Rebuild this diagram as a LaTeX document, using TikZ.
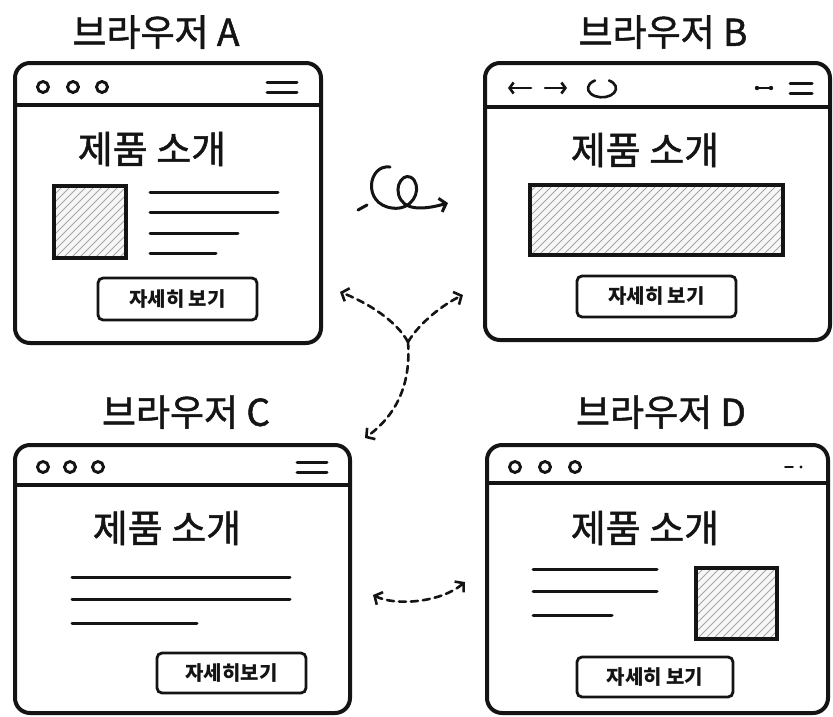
\documentclass[tikz,border=0pt]{standalone}
\usepackage{fontspec}
\setmainfont{Noto Sans CJK KR}
\newfontfamily\hfont{Noto Sans CJK KR}[FakeBold=1.3]
\usetikzlibrary{arrows.meta}
\newcommand{\hatchrect}[4]{%
  \begin{scope}
    \clip (#1,#2) rectangle (#3,#4);
    \fill[hatchbg] (#1,#2) rectangle (#3,#4);
    \foreach \k in {0,8,...,400} \draw[hatch] (#1+\k-100,#4+5) -- ++(110,-110);
  \end{scope}
  \draw[imgbox] (#1,#2) rectangle (#3,#4);}
\begin{document}
\begin{tikzpicture}[x=1pt,y=-1pt,
  win/.style={draw=ink, line width=4pt, rounded corners=15pt, inner sep=0pt, outer sep=0pt},
  bar/.style={draw=ink, line width=3.4pt},
  ttl/.style={font=\hfont\fontsize{37}{44}\selectfont, text=ink, inner sep=0pt},
  head/.style={font=\hfont\fontsize{38}{44}\selectfont, text=ink, inner sep=0pt},
  btn/.style={draw=ink, line width=2.8pt, rounded corners=5pt, inner sep=0pt, font=\bfseries\fontsize{20}{24}\selectfont, text=ink},
  txt/.style={draw=ink, line width=3pt, line cap=round},
  dotc/.style={draw=ink, line width=2.9pt},
  nav/.style={draw=ink, line width=2.6pt, line cap=round},
  hatch/.style={draw=gray!70, line width=0.9pt},
  hatchbg/.style={fill=gray!6},
  imgbox/.style={draw=ink, line width=3.3pt},
  conn/.style={draw=ink, line width=2.6pt, dash pattern=on 7pt off 5pt, line cap=round},
  tip/.style={-{Straight Barb[length=6pt,width=14pt,line width=2.6pt]}},
  both/.style={{Straight Barb[length=6pt,width=14pt,line width=2.6pt]}-{Straight Barb[length=6pt,width=14pt,line width=2.6pt]}}
]
\colorlet{ink}{black!92}
\useasboundingbox[fill=white] (0,0) rectangle (833,716);

% ---------- Browser A ----------
\node[ttl] (titleA) at (156,32) {브라우저 A};
\node[win, minimum width=306pt, minimum height=280pt] (A) at (168,203) {};
\draw[bar] (A.west |- 0,105) -- (A.east |- 0,105);
\foreach \x in {43,73,102} \draw[dotc] (\x,87) circle (5.5);
\draw[txt] (267,82) -- (297,82); \draw[txt] (267,92) -- (297,92);
\node[head] (headA) at (152,149) {제품 소개};
\hatchrect{54}{186}{126}{258}
\draw[txt] (150,192) -- (278,192);
\draw[txt] (150,212) -- (278,212);
\draw[txt] (150,233) -- (238,233);
\draw[txt] (150,253) -- (216,253);
\node[btn, minimum width=159pt, minimum height=42pt] (btnA) at (177.5,299) {자세히 보기};

% ---------- Browser B ----------
\node[ttl] (titleB) at (663,32) {브라우저 B};
\node[win, minimum width=345pt, minimum height=277pt] (B) at (657.5,201.5) {};
\draw[bar] (B.west |- 0,107) -- (B.east |- 0,107);
\draw[nav, -{Straight Barb[length=4pt,width=11pt,line width=2.6pt]}] (531,88) -- (508,88);
\draw[nav, -{Straight Barb[length=4pt,width=11pt,line width=2.6pt]}] (545,88) -- (567,88);
\draw[nav] (609,80.5) arc[start angle=-60, end angle=240, x radius=14, y radius=9];
\draw[nav] (757,88) -- (771,88);
\fill[ink] (757,88) circle (2.2); \fill[ink] (771,88) circle (2.2);
\draw[txt] (790,83) -- (812,83); \draw[txt] (790,93) -- (812,93);
\node[head] (headB) at (645,150) {제품 소개};
\hatchrect{530}{185}{783}{255}
\node[btn, minimum width=159pt, minimum height=41pt] (btnB) at (656.5,296.5) {자세히 보기};

% ---------- Browser C ----------
\node[ttl] (titleC) at (186,412) {브라우저 C};
\node[win, minimum width=335pt, minimum height=268pt] (C) at (182.5,579) {};
\draw[bar] (C.west |- 0,485) -- (C.east |- 0,485);
\foreach \x in {43,70,98} \draw[dotc] (\x,467) circle (5.5);
\draw[txt] (297,462) -- (327,462); \draw[txt] (297,472) -- (327,472);
\node[head] (headC) at (167,528) {제품 소개};
\draw[txt] (72,577) -- (290,577);
\draw[txt] (72,599) -- (290,599);
\draw[txt] (72,623) -- (197,623);
\node[btn, minimum width=149pt, minimum height=40pt] (btnC) at (231.5,673) {자세히보기};

% ---------- Browser D ----------
\node[ttl] (titleD) at (661,412) {브라우저 D};
\node[win, minimum width=341pt, minimum height=268pt] (D) at (657.5,579) {};
\draw[bar] (D.west |- 0,483) -- (D.east |- 0,483);
\foreach \x in {515,545,575} \draw[dotc] (\x,467) circle (5.5);
\draw[nav, line width=1.8pt] (785,467) -- (793,467);
\fill[ink] (801,467) circle (1.6);
\node[head] (headD) at (645,528) {제품 소개};
\draw[txt] (533,569) -- (657,569);
\draw[txt] (533,591) -- (657,591);
\draw[txt] (533,615) -- (612,615);
\hatchrect{696}{568}{777}{639}
\node[btn, minimum width=156pt, minimum height=40pt] (btnD) at (655,677) {자세히 보기};

% ---------- connectors ----------
\coordinate (sq0) at (358,210);
\coordinate (sq1) at (367,205);
\coordinate (sqs) at (390,167);
\coordinate (sqe) at (448,203);
\draw[nav, line width=3pt] (sq0) -- (sq1);
\draw[nav, line width=3pt, -{Straight Barb[length=6pt,width=14pt,line width=3pt]}] (sqs) .. controls (368,164) and (362,204) .. (392,208)
  .. controls (411,211) and (422,192) .. (414,180)
  .. controls (405,169) and (392,186) .. (401,200)
  .. controls (409,212) and (430,208) .. (sqe);

\coordinate (J) at (408,342);
\coordinate (pA) at (340,292);
\coordinate (pB) at (463,295);
\coordinate (pC) at (365,438);
\draw[conn, tip] (J) .. controls (396,320) and (366,302) .. (pA);
\draw[conn, tip] (J) .. controls (420,322) and (444,304) .. (pB);
\draw[conn, tip] (J) .. controls (411,382) and (398,414) .. (pC);

\coordinate (pCD1) at (373,595);
\coordinate (pCD2) at (465,582);
\draw[conn, both] (pCD1) .. controls (395,606) and (440,603) .. (pCD2);
\end{tikzpicture}
\end{document}
